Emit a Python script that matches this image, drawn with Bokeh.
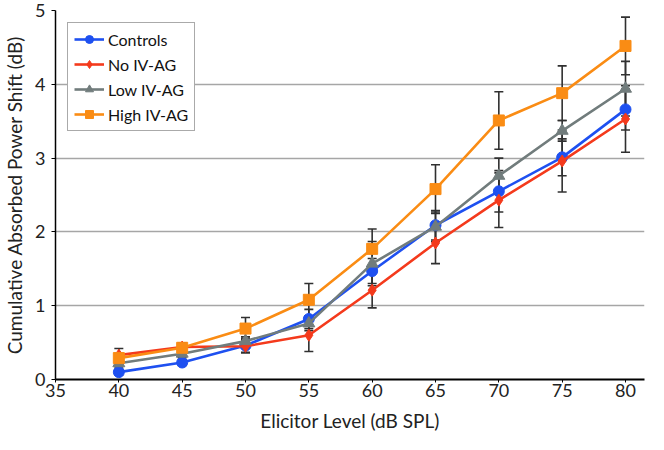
from bokeh.plotting import figure
from bokeh.models import ColumnDataSource, Whisker, Range1d, FixedTicker, TeeHead
from bokeh.embed import file_html
from bokeh.resources import INLINE

levels = [40, 45, 50, 55, 60, 65, 70, 75, 80]

controls = [0.10, 0.23, 0.46, 0.82, 1.47, 2.09, 2.55, 3.01, 3.66]
controls_err = [0.04, 0.04, 0.10, 0.13, 0.17, 0.20, 0.28, 0.25, 0.28]

no_ivag = [0.33, 0.44, 0.45, 0.60, 1.21, 1.85, 2.43, 2.96, 3.53]
no_ivag_err = [0.09, 0.05, 0.08, 0.22, 0.24, 0.28, 0.37, 0.42, 0.45]

low_ivag = [0.22, 0.35, 0.52, 0.76, 1.57, 2.07, 2.76, 3.37, 3.94]
low_ivag_err = [0.05, 0.05, 0.06, 0.10, 0.30, 0.20, 0.24, 0.14, 0.37]

high_ivag = [0.29, 0.43, 0.69, 1.08, 1.77, 2.58, 3.51, 3.88, 4.52]
high_ivag_err = [0.06, 0.06, 0.15, 0.22, 0.27, 0.33, 0.39, 0.37, 0.39]

x_ticks = [35, 40, 45, 50, 55, 60, 65, 70, 75, 80]
y_ticks = [0, 1, 2, 3, 4, 5]

FONT = "Lato"

p = figure(width=648, height=434, output_backend="svg", toolbar_location=None,
           x_range=Range1d(35, 81.5), y_range=Range1d(0, 5),
           min_border_left=44, min_border_right=4, min_border_top=10, min_border_bottom=10)
p.outline_line_color = None
p.background_fill_color = "white"

p.xgrid.grid_line_color = None
p.ygrid.grid_line_color = "#A6A6A6"
p.ygrid.grid_line_width = 1.3

for ax in (p.xaxis, p.yaxis):
    ax.axis_line_color = "black"
    ax.major_tick_line_color = "black"
    ax.minor_tick_line_color = None
    ax.major_tick_in = 0
    ax.major_tick_out = 4
    ax.major_label_text_font = FONT
    ax.major_label_text_font_size = "18px"
    ax.major_label_text_color = "#222222"
    ax.axis_label_text_font = FONT
    ax.axis_label_text_font_size = "19px"
    ax.axis_label_text_font_style = "normal"
    ax.axis_label_text_color = "#222222"

p.xaxis.axis_line_width = 2.2
p.yaxis.axis_line_width = 1.5
p.xaxis.ticker = FixedTicker(ticks=x_ticks)
p.yaxis.ticker = FixedTicker(ticks=y_ticks)
p.xaxis.major_tick_out = 3
p.xaxis.major_label_standoff = 1
p.yaxis.major_label_standoff = 6
p.xaxis.axis_label = "Elicitor Level (dB SPL)"
p.yaxis.axis_label = "Cumulative Absorbed Power Shift (dB)"
p.xaxis.axis_label_standoff = 9
p.yaxis.axis_label_standoff = 6

series = [
    ("Controls", controls, controls_err, "#1E50F0", "circle", 11),
    ("No IV-AG", no_ivag, no_ivag_err, "#F43A1C", "diamond", 12),
    ("Low IV-AG", low_ivag, low_ivag_err, "#717C7C", "triangle", 12),
    ("High IV-AG", high_ivag, high_ivag_err, "#FA8C14", "square", 11),
]

# error bars underneath
for name, vals, errs, color, marker, size in series:
    src = ColumnDataSource(dict(x=levels,
                                upper=[v + e for v, e in zip(vals, errs)],
                                lower=[v - e for v, e in zip(vals, errs)]))
    w = Whisker(base="x", upper="upper", lower="lower", source=src, level="underlay",
                line_color="#303030", line_width=1.6,
                upper_head=TeeHead(size=9, line_color="#303030", line_width=1.6),
                lower_head=TeeHead(size=9, line_color="#303030", line_width=1.6))
    p.add_layout(w)

for name, vals, errs, color, marker, size in series:
    src = ColumnDataSource(dict(x=levels, y=vals))
    p.line("x", "y", source=src, line_color=color, line_width=2.6, legend_label=name)
    p.scatter("x", "y", source=src, marker=marker, size=size, fill_color=color,
              line_color=color, legend_label=name)

lg = p.legend[0]
lg.location = "top_left"
lg.margin = 12
lg.padding = 6
lg.spacing = 5
lg.glyph_width = 30
lg.glyph_height = 20
lg.label_height = 20
lg.label_standoff = 4
lg.label_text_font = FONT
lg.label_text_font_size = "16px"
lg.label_text_color = "#111111"
lg.border_line_color = "#555555"
lg.border_line_width = 1.3
lg.background_fill_color = "white"
lg.background_fill_alpha = 1.0

open("out.html", "w").write(file_html(p, INLINE))
